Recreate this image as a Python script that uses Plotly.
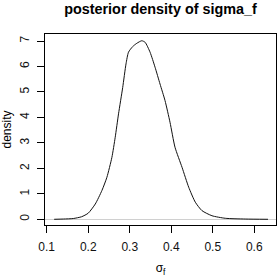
import plotly.graph_objects as go

# Posterior density of sigma_f
sigma_f = [0.118, 0.140, 0.164, 0.184, 0.200, 0.217, 0.233, 0.245, 0.257, 0.265,
           0.273, 0.283, 0.291, 0.297, 0.307, 0.317, 0.329, 0.337, 0.349, 0.361,
           0.373, 0.385, 0.397, 0.409, 0.426, 0.442, 0.458, 0.474, 0.498, 0.530,
           0.578, 0.633]
density = [0.0, 0.01, 0.03, 0.10, 0.24, 0.60, 1.13, 1.65, 2.43, 3.22,
           4.14, 5.17, 6.10, 6.56, 6.78, 6.91, 7.01, 6.95, 6.56, 5.97,
           5.31, 4.66, 3.81, 2.83, 2.04, 1.26, 0.67, 0.34, 0.14, 0.04,
           0.01, 0.0]

x_ticks = [0.1, 0.2, 0.3, 0.4, 0.5, 0.6]
y_ticks = [0, 1, 2, 3, 4, 5, 6, 7]

title_text = "posterior density of sigma_f"
x_title = "σ<sub>f</sub>"
y_title = "density"

FONT = "Liberation Sans, Arial, Helvetica, sans-serif"

fig = go.Figure()
fig.add_trace(go.Scatter(
    x=sigma_f, y=density, mode="lines",
    line=dict(color="#111", width=1, shape="spline", smoothing=0.6),
    hoverinfo="skip", showlegend=False,
))

fig.update_layout(
    width=277, height=277,
    margin=dict(l=45, r=1, t=34, b=52, autoexpand=False),
    paper_bgcolor="white", plot_bgcolor="white",
    font=dict(family=FONT, size=12, color="black"),
    title=dict(text="<b>" + title_text + "</b>", x=0.5, xref="paper",
               y=1 - 9 / 277, yref="container", yanchor="middle", xanchor="center",
               font=dict(size=14.4, family=FONT, color="black")),
)

fig.update_xaxes(
    range=[0.0959, 0.6523], tickvals=x_ticks, ticktext=[str(v) for v in x_ticks],
    showgrid=False, zeroline=False, automargin=False,
    showline=True, linecolor="black", linewidth=1, mirror=True,
    ticks="outside", ticklen=7, tickcolor="black", tickwidth=1,
    ticklabelstandoff=4,
    tickfont=dict(size=12, color="#111"),
    title=dict(text=x_title, standoff=13, font=dict(size=12)),
)
fig.update_yaxes(
    range=[-0.224, 7.275], tickvals=y_ticks, ticktext=[str(v) for v in y_ticks],
    tickangle=-90,
    showgrid=False, zeroline=True, zerolinecolor="#d0d0d0", zerolinewidth=1,
    automargin=False,
    showline=True, linecolor="black", linewidth=1, mirror=True,
    ticks="outside", ticklen=7, tickcolor="black", tickwidth=1,
    ticklabelstandoff=3,
    tickfont=dict(size=12, color="#111"),
    title=dict(text=y_title, standoff=6, font=dict(size=12)),
)

fig.write_html("out.html",
               config={"displayModeBar": False, "staticPlot": True},
               post_script="document.body.style.margin='0';document.body.style.padding='0';")
